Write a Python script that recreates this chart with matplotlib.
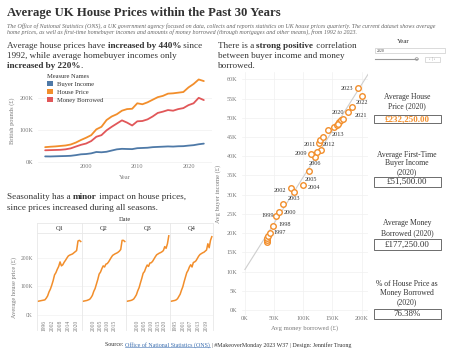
import matplotlib
matplotlib.use('Agg')
import matplotlib.pyplot as plt
import numpy as np
from matplotlib.patches import Rectangle, Patch, Circle
from matplotlib.lines import Line2D

plt.rcParams['font.family'] = ['Liberation Serif', 'DejaVu Serif']

# ---------------- data (values in thousands of £) ----------------
years = list(range(1992, 2024))
house_price = [46.7, 48, 49, 50.5, 52, 55, 61, 69, 76, 84, 102, 110, 131, 142, 149, 160,
               165, 166, 183, 180, 186, 194, 202, 206, 213, 214, 216, 218, 232.25, 243, 257, 252]
buyer_income = [18.0, 17.8, 18.3, 18.8, 19.2, 19.9, 21.9, 24.5, 25.4, 27.5, 31.7, 30.8, 32.4, 36.2, 39.9, 41.5,
                41.0, 40.6, 43.5, 44.2, 44.9, 46.7, 47.5, 48.2, 49.0, 48.5, 49.5, 49.8, 51.5, 52.9, 55.7, 57.7]
money_borrowed = [37, 37.5, 38, 38.5, 40, 43, 48.6, 54, 58, 65.7, 79, 84, 99, 110, 120, 130,
                  123, 114, 127, 128, 133, 142, 153, 157, 162, 160, 165, 168, 177.25, 183, 200, 193]

quarters = ['Q1', 'Q2', 'Q3', 'Q4']
q1_price = [47, 48, 49, 50, 51, 52, 58, 66, 80, 90, 104, 120, 140, 148, 160, 170,
            186, 172, 176, 185, 192, 200, 207, 210, 212, 214, 218, 222, 226, 260, 262, 258]
q2_price = [47, 48, 49, 50, 52, 54, 60, 68, 82, 92, 108, 124, 143, 150, 162, 172,
            168, 178, 180, 186, 194, 202, 209, 212, 215, 217, 220, 224, 230, 262, 262, 258]
q3_price = [47, 48, 49, 50, 52, 55, 62, 70, 84, 95, 112, 128, 146, 152, 165, 175,
            170, 182, 183, 188, 196, 204, 211, 214, 217, 219, 222, 226, 240, 234, 250, 278]
q4_price = [47, 48, 49, 50, 52, 56, 64, 72, 86, 98, 116, 132, 148, 156, 168, 176,
            168, 184, 186, 190, 198, 206, 212, 215, 218, 220, 224, 228, 250, 236, 262, 275]
q_ticks = [[1996, 2002, 2008, 2014, 2020], [2000, 2005, 2010, 2015],
           [2000, 2005, 2010, 2015, 2020], [1995, 2001, 2007, 2013, 2019]]

labeled_years = [1997, 1998, 1999, 2000, 2002, 2003, 2004, 2005, 2006, 2009,
                 2011, 2012, 2013, 2020, 2021, 2022, 2023]
kpi_year = 2020
pct_borrowed_2020 = 76.38

# ---------------- styling / layout ----------------
W, H = 449, 357
BLUE, ORANGE, RED = '#4e79a7', '#f28e2b', '#e15759'
DARK, GRAY, LGRAY = '#333333', '#7a7a7a', '#e8e8e8'

fig = plt.figure(figsize=(W / 100, H / 100), dpi=100)
fig.patch.set_facecolor('white')
renderer = fig.canvas.get_renderer()


def fx(x):
    return x / W


def fy(y):
    return 1 - y / H


def add_ax(l, t, r, b):
    return fig.add_axes([l / W, 1 - b / H, (r - l) / W, (b - t) / H])


def rich(x, y, parts, size, color=DARK):
    cx = x
    for txt, bold in parts:
        t = fig.text(fx(cx), fy(y), txt, fontsize=size, color=color, va='baseline', ha='left',
                     fontweight='bold' if bold else 'normal')
        bb = t.get_window_extent(renderer)
        cx = bb.x1
    return cx


def kfmt(v, pos=None):
    return f'{v:.0f}K'


# ---------------- title ----------------
fig.text(fx(7), fy(15.7), 'Average UK House Prices within the Past 30 Years', fontsize=9.2,
         fontweight='bold', color=DARK, va='baseline')
sub1 = ('The Office of National Statistics (ONS), a UK government agency focused on data, collects and reports '
        'statistics on UK house prices quarterly. The current dataset shows average')
sub2 = ('home prices, as well as first-time homebuyer incomes and amounts of money borrowed (through mortgages '
        'and other means), from 1992 to 2023.')
fig.text(fx(7), fy(27.5), sub1, fontsize=4.3, style='italic', color='#666666', va='baseline')
fig.text(fx(7), fy(33.5), sub2, fontsize=4.3, style='italic', color='#666666', va='baseline')

# ---------------- sentences ----------------
TS = 6.6
rich(7, 47.5, [('Average house prices have ', False), ('increased by 440%', True), (' since', False)], TS)
rich(7, 58, [('1992, while average homebuyer incomes only', False)], TS)
rich(7, 68.5, [('increased by 220%', True), ('.', False)], TS)

rich(218, 47.5, [('There is a ', False), ('strong positive', True), (' correlation', False)], TS)
rich(218, 58, [('between buyer income and money', False)], TS)
rich(218, 68.5, [('borrowed.', False)], TS)

rich(7, 199, [('Seasonality has a ', False), ('minor', True), (' impact on house prices,', False)], TS)
rich(7, 209.5, [('since prices increased during all seasons.', False)], TS)

# ---------------- line chart ----------------
ax1 = add_ax(38, 74, 212, 163.8)
ax1.plot(years, buyer_income, color=BLUE, lw=1.3, solid_capstyle='round')
ax1.plot(years, house_price, color=ORANGE, lw=1.3, solid_capstyle='round')
ax1.plot(years, money_borrowed, color=RED, lw=1.3, solid_capstyle='round')
ax1.set_xlim(1990.6, 2024.6)
ax1.set_ylim(-5, 274)
ax1.set_yticks([0, 100, 200])
ax1.yaxis.set_major_formatter(plt.FuncFormatter(kfmt))
ax1.set_xticks([2000, 2010, 2020])
for s in ax1.spines.values():
    s.set_visible(False)
ax1.tick_params(length=0, labelsize=4.4, labelcolor=GRAY)
ax1.tick_params(axis='y', pad=3.4)
ax1.tick_params(axis='x', pad=0.5)
ax1.grid(axis='y', color='#f0f0f0', lw=0.5)
ax1.set_axisbelow(True)
fig.text(fx(125), fy(177.5), 'Year', fontsize=4.6, color=GRAY, ha='center', va='center')
fig.text(fx(11.7), fy(121), 'British pounds (£)', fontsize=4.6, color=GRAY, ha='center', va='center',
         rotation=90)
handles = [Patch(facecolor=BLUE), Patch(facecolor=ORANGE), Patch(facecolor=RED)]
leg = ax1.legend(handles, ['Buyer Income', 'House Price', 'Money Borrowed'], title='Measure Names',
                 loc='upper left', bbox_to_anchor=(fx(47), fy(73.5)), bbox_transform=fig.transFigure,
                 frameon=False, fontsize=4.7, title_fontsize=4.7, handlelength=0.9, handleheight=0.9,
                 handletextpad=0.6, labelspacing=0.32, borderpad=0, borderaxespad=0, alignment='left')
for t in leg.get_texts():
    t.set_color(DARK)
leg.get_title().set_color(DARK)

# ---------------- seasonality panels ----------------
fig.text(fx(125), fy(219.3), 'Date', fontsize=4.6, color=DARK, ha='center', va='center')
edges = [37, 82, 126, 170, 213]
q_series = [q1_price, q2_price, q3_price, q4_price]
for i, q in enumerate(quarters):
    ax = add_ax(edges[i], 233, edges[i + 1], 318)
    ax.plot(years, q_series[i], color=ORANGE, lw=1.1)
    ax.set_xlim(1991.3, 2023.9)
    ax.set_ylim(-12, 288)
    ax.set_yticks([0, 100, 200])
    ax.yaxis.set_major_formatter(plt.FuncFormatter(kfmt))
    ax.set_xticks(q_ticks[i])
    ax.set_xticklabels([str(t) for t in q_ticks[i]], rotation=90)
    ax.tick_params(length=0, labelsize=4.0, labelcolor=GRAY)
    ax.tick_params(axis='x', pad=1.5)
    ax.tick_params(axis='y', pad=3.0)
    if i > 0:
        ax.set_yticklabels([])
    for s in ax.spines.values():
        s.set_visible(False)
    ax.grid(axis='y', color='#f2f2f2', lw=0.5)
    ax.set_axisbelow(True)
    fig.text(fx((edges[i] + edges[i + 1]) / 2), fy(228.3), q, fontsize=4.6, color=DARK,
             ha='center', va='center')
for e in edges:
    fig.add_artist(Line2D([fx(e), fx(e)], [fy(223), fy(330)], color=LGRAY, lw=0.6))
fig.add_artist(Line2D([fx(edges[0]), fx(edges[-1])], [fy(233), fy(233)], color=LGRAY, lw=0.6))
fig.add_artist(Line2D([fx(edges[0]), fx(edges[-1])], [fy(223), fy(223)], color=LGRAY, lw=0.6))
fig.text(fx(14), fy(287), 'Average house price (£)', fontsize=4.6, color=GRAY, ha='center', va='center',
         rotation=90)

# ---------------- scatter ----------------
ax3 = add_ax(242, 72, 368, 315)
b_arr = np.array(money_borrowed)
i_arr = np.array(buyer_income)
slope, icpt = np.polyfit(b_arr, i_arr, 1)
xs = np.array([0, 211])
ax3.plot(xs, icpt + slope * xs, color='#cfcfcf', lw=0.8, zorder=1)
ax3.scatter(money_borrowed, buyer_income, s=16, facecolors='white', edgecolors=ORANGE, linewidths=1.0,
            zorder=3)
ax3.set_xlim(-5, 211)
ax3.set_ylim(-1.3, 61.9)
ax3.set_xticks([0, 50, 100, 150, 200])
ax3.set_yticks(list(range(0, 61, 5)))
ax3.xaxis.set_major_formatter(plt.FuncFormatter(kfmt))
ax3.yaxis.set_major_formatter(plt.FuncFormatter(kfmt))
for s in ax3.spines.values():
    s.set_visible(False)
ax3.tick_params(length=0, labelsize=4.4, labelcolor=GRAY)
ax3.tick_params(axis='y', pad=3.4)
ax3.tick_params(axis='x', pad=0.8)
ax3.grid(color='#f0f0f0', lw=0.5)
ax3.set_axisbelow(True)
ax3.set_xlabel('Avg money borrowed (£)', fontsize=4.8, color=GRAY, labelpad=3)
ax3.set_ylabel('Avg buyer income (£)', fontsize=4.8, color=GRAY, labelpad=4)
label_offsets = {1997: (10, -0.8), 1998: (11.7, -0.8), 1999: (-9, 0), 2000: (11, 0), 2002: (-11, 2),
                 2003: (0, 7.4), 2004: (11.6, 2), 2005: (2, 9), 2006: (0, 6.7), 2009: (-10.5, 0),
                 2011: (-9.6, 4), 2012: (6.8, 7.6), 2013: (10.5, 4), 2020: (-10.6, 0.7),
                 2021: (9.3, 8.4), 2022: (0, 7), 2023: (-10.8, 0)}
for yr in labeled_years:
    k = years.index(yr)
    dx, dy = label_offsets[yr]
    ax3.annotate(str(yr), (money_borrowed[k], buyer_income[k]), xytext=(dx, -dy),
                 textcoords='offset pixels', ha='center', va='center', fontsize=4.4, color=DARK, zorder=4)

# ---------------- filter + KPI cards ----------------
fig.text(fx(403), fy(41.7), 'Year', fontsize=5.0, color=DARK, ha='center', va='center')
fig.add_artist(Rectangle((fx(375), fy(53.3)), (445 - 375) / W, 5 / H, transform=fig.transFigure,
                         facecolor='white', edgecolor='#cccccc', lw=0.5))
fig.text(fx(377), fy(50.8), str(kpi_year), fontsize=2.8, color=DARK, va='center')
fig.add_artist(Line2D([fx(375), fx(416.7)], [fy(59), fy(59)], color='#999999', lw=0.8))
fig.add_artist(Circle((fx(416.7), fy(59)), 1.6 / W, transform=fig.transFigure, facecolor='white',
                      edgecolor='#888888', lw=0.5))
fig.add_artist(Rectangle((fx(425), fy(61.5)), 15 / W, 5 / H, transform=fig.transFigure,
                         facecolor='white', edgecolor='#cccccc', lw=0.5))
fig.text(fx(432.5), fy(59), '‹ | ›', fontsize=3.2, color='#888888', ha='center', va='center')

hp = house_price[years.index(kpi_year)]
bi = buyer_income[years.index(kpi_year)]
mb = money_borrowed[years.index(kpi_year)]
cards = [
    (['Average House', f'Price ({kpi_year})'], [96.7, 106], (115, 123.3), f'£{hp * 1000:,.2f}', ORANGE, True),
    (['Average First-Time', 'Buyer Income', f'({kpi_year})'], [155, 163.3, 171.7], (176.7, 186.7),
     f'£{bi * 1000:,.2f}', DARK, False),
    (['Average Money', f'Borrowed ({kpi_year})'], [223.3, 233.3], (239, 250), f'£{mb * 1000:,.2f}', DARK, False),
    (['% of House Price as', 'Money Borrowed', f'({kpi_year})'], [284, 293.3, 301.7], (309, 319),
     f'{pct_borrowed_2020:.2f}%', DARK, False),
]
for lines, ys, (bt, bb), val, col, bold in cards:
    for ln, yy in zip(lines, ys):
        fig.text(fx(407), fy(yy), ln, fontsize=5.5, color=DARK, ha='center', va='center')
    fig.add_artist(Rectangle((fx(373.5), fy(bb)), (440.5 - 373.5) / W, (bb - bt) / H,
                             transform=fig.transFigure, facecolor='white', edgecolor='#555555', lw=0.6))
    fig.text(fx(407), fy((bt + bb) / 2 + 0.3), val, fontsize=6.4, color=col, ha='center', va='center',
             fontweight='bold' if bold else 'normal')

# ---------------- footer ----------------
FS = 4.3
x0 = 105
t = fig.text(fx(x0), fy(346.5), 'Source: ', fontsize=FS, color=DARK, va='baseline')
x1 = t.get_window_extent(renderer).x1
t2 = fig.text(fx(x1), fy(346.5), 'Office of National Statistics (ONS)', fontsize=FS, color='#3c6fb0',
              va='baseline')
x2 = t2.get_window_extent(renderer).x1
fig.add_artist(Line2D([fx(x1), fx(x2)], [fy(347.3), fy(347.3)], color='#3c6fb0', lw=0.4))
fig.text(fx(x2), fy(346.5), ' | #MakeoverMonday 2023 W37 | Design: Jennifer Truong', fontsize=FS,
         color=DARK, va='baseline')

fig.savefig('out.png', dpi=100, facecolor='white')
